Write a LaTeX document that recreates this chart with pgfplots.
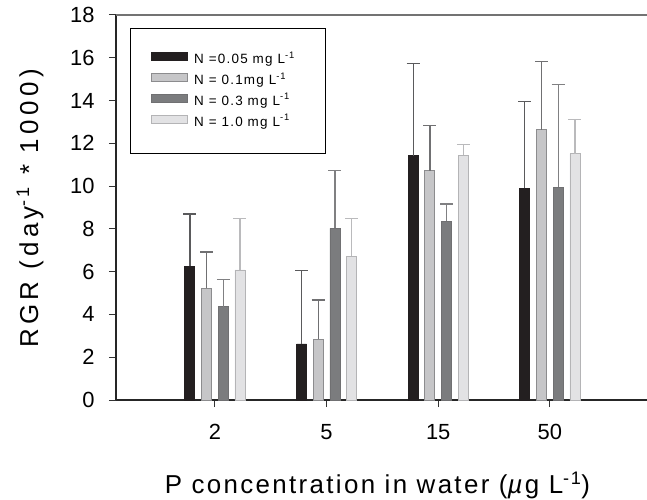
\documentclass[border=0pt]{standalone}
\usepackage{pgfplots}
\usepackage{pgfplotstable}
\pgfplotsset{compat=1.18}
\usepackage{fontspec}
\setmainfont{Liberation Sans}
\newfontfamily\lblfont[LetterSpace=9]{Liberation Sans}
\newfontfamily\ylblfont[LetterSpace=17]{Liberation Sans}
\newfontfamily\legfont[LetterSpace=9]{Liberation Sans}
\newcommand\tfont{\fontsize{22}{26}\selectfont}
\definecolor{cA}{HTML}{231F20}
\definecolor{cB}{HTML}{C6C6C8}
\definecolor{cC}{HTML}{7B7C7E}
\definecolor{cD}{HTML}{E2E2E4}
\definecolor{dA}{HTML}{231F20}
\definecolor{dB}{HTML}{8C8C8E}
\definecolor{dC}{HTML}{707072}
\definecolor{dD}{HTML}{B4B4B6}
\definecolor{eA}{HTML}{5A5A5C}
\definecolor{eB}{HTML}{707072}
\definecolor{eC}{HTML}{808082}
\definecolor{eD}{HTML}{BABABC}

\pgfplotstableread{
x y e
0 6.25 2.45
1 2.62 3.45
2 11.42 4.31
3 9.89 4.08
}\tA
\pgfplotstableread{
x y e
0 5.22 1.70
1 2.85 1.82
2 10.72 2.11
3 12.63 3.20
}\tB
\pgfplotstableread{
x y e
0 4.37 1.28
1 8.02 2.71
2 8.36 0.80
3 9.94 4.81
}\tC
\pgfplotstableread{
x y e
0 6.08 2.42
1 6.71 1.78
2 11.45 0.50
3 11.52 1.58
}\tD

\begin{document}
\begin{tikzpicture}
\begin{axis}[
  at={(0,0)}, anchor=south west,
  scale only axis, width=531bp, height=385bp,
  xmin=-0.886, xmax=3.87, ymin=0, ymax=18,
  ybar=6.7bp, bar width=10bp,
  axis lines*=left,
  axis line style={line width=1.2bp, color=black!85},
  xtick={0,1,2,3}, xticklabels={{\tfont 2},{\tfont 5},{\tfont 15},{\tfont 50}},
  ytick={0,2,...,18},
  yticklabel={\tfont\pgfmathprintnumber{\tick}},
  tick align=outside, major tick length=7bp,
  tick style={line width=1bp, color=black!80},
  /pgf/number format/assume math mode=true,
  xticklabel shift=14bp,
  yticklabel shift=11bp,
  every axis x label/.style={at={(axis description cs:0.5,0)}, yshift=-93bp, xshift=-4bp, anchor=base, font=\lblfont\fontsize{26}{30}\selectfont},
  every axis y label/.style={at={(axis description cs:0,0.5)}, xshift=-86bp, yshift=-1bp, rotate=90, anchor=center, font=\ylblfont\fontsize{26}{30}\selectfont},
  xlabel={P concentration in water (\textit{µ}g L\textsuperscript{-1})},
  ylabel={RGR (day\textsuperscript{-1} * 1000)},
  legend style={at={(0.0264,0.9675)}, anchor=north west, draw=black, line width=0.8bp,
    font=\legfont\fontsize{13.5}{15}\selectfont, inner xsep=21bp, inner ysep=24bp,
    row sep=6.5bp,
    nodes={inner sep=0pt, text height=9bp, text depth=3bp},
    /tikz/every odd column/.append style={column sep=6bp}},
  legend cell align=left,
  legend image code/.code={\draw[#1, line width=0.8bp] (0bp,-0.5bp) rectangle (36bp,8bp);},
  error bars/y dir=plus, error bars/y explicit,
]
\addplot[fill=cA, draw=dA, line width=0.8bp,
  error bars/error bar style={color=eA, line width=1.3bp},
  error bars/error mark options={rotate=90, color=eA, line width=1.3bp, mark size=6.5bp}]
  table[x=x, y=y, y error=e] {\tA};
\addlegendentry{N =0.05 mg L\textsuperscript{-1}\hspace*{10bp}}
\addplot[fill=cB, draw=dB, line width=0.8bp,
  error bars/error bar style={color=eB, line width=1.3bp},
  error bars/error mark options={rotate=90, color=eB, line width=1.3bp, mark size=6.5bp}]
  table[x=x, y=y, y error=e] {\tB};
\addlegendentry{N = 0.1mg L\textsuperscript{-1}}
\addplot[fill=cC, draw=dC, line width=0.8bp,
  error bars/error bar style={color=eC, line width=1.3bp},
  error bars/error mark options={rotate=90, color=eC, line width=1.3bp, mark size=6.5bp}]
  table[x=x, y=y, y error=e] {\tC};
\addlegendentry{N = 0.3 mg L\textsuperscript{-1}}
\addplot[fill=cD, draw=dD, line width=0.8bp,
  error bars/error bar style={color=eD, line width=1.3bp},
  error bars/error mark options={rotate=90, color=eD, line width=1.3bp, mark size=6.5bp}]
  table[x=x, y=y, y error=e] {\tD};
\addlegendentry{N = 1.0 mg L\textsuperscript{-1}}
\end{axis}
\draw[line width=1.2bp, color=black!55] (current axis.north west) -- (current axis.north east);
\pgfresetboundingbox
\path[use as bounding box] (-116bp,-100bp) rectangle (531bp,400bp);
\end{tikzpicture}
\end{document}
